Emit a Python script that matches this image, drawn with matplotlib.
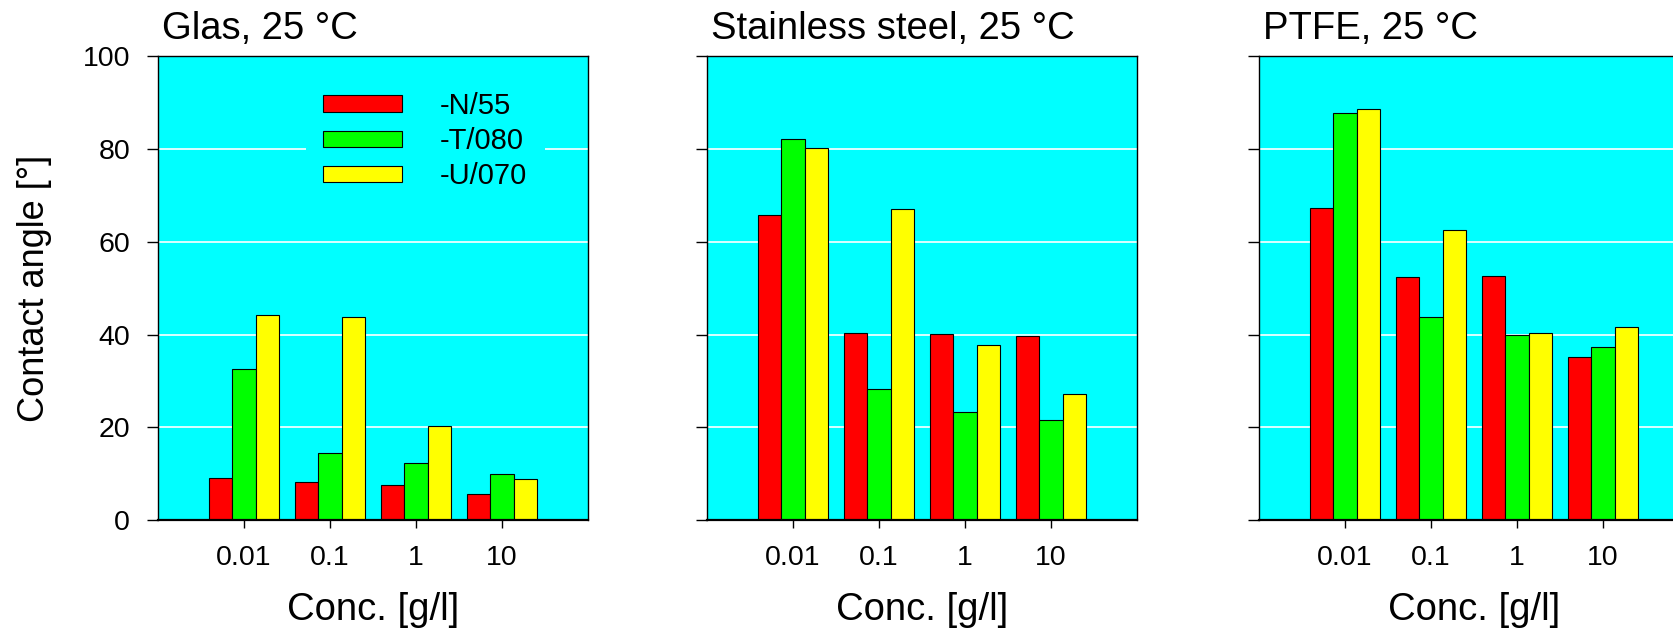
import numpy as np
import matplotlib
matplotlib.use('Agg')
import matplotlib.pyplot as plt

plt.rcParams['font.family'] = ['Liberation Sans', 'DejaVu Sans']

conc_labels = ['0.01', '0.1', '1', '10']
series_names = ['-N/55', '-T/080', '-U/070']
bar_colors = ['#ff0000', '#00ff00', '#ffff00']

# contact angles [deg]
glas_n55 = [9.1, 8.2, 7.5, 5.6]
glas_t080 = [32.5, 14.5, 12.3, 10.0]
glas_u070 = [44.3, 43.9, 20.2, 8.9]

steel_n55 = [65.9, 40.3, 40.1, 39.8]
steel_t080 = [82.1, 28.2, 23.3, 21.6]
steel_u070 = [80.3, 67.0, 37.7, 27.2]

ptfe_n55 = [67.4, 52.4, 52.6, 35.2]
ptfe_t080 = [87.9, 43.8, 40.0, 37.4]
ptfe_u070 = [88.6, 62.6, 40.3, 41.6]

panels = [
    ('Glas, 25 °C', [glas_n55, glas_t080, glas_u070]),
    ('Stainless steel, 25 °C', [steel_n55, steel_t080, steel_u070]),
    ('PTFE, 25 °C', [ptfe_n55, ptfe_t080, ptfe_u070]),
]

W, H = 1673, 630
fig = plt.figure(figsize=(W / 100, H / 100), dpi=100)

ax_left = [158, 707, 1259]
ax_w = 430
ax_top, ax_bot = 56.5, 520

x = np.arange(1, len(conc_labels) + 1)
bw = 0.27

for i, (title, data) in enumerate(panels):
    ax = fig.add_axes([ax_left[i] / W, 1 - ax_bot / H, ax_w / W, (ax_bot - ax_top) / H])
    ax.set_facecolor('#00ffff')
    ax.set_axisbelow(True)
    for j, vals in enumerate(data):
        ax.bar(x + (j - 1) * bw, vals, bw, color=bar_colors[j], edgecolor='black',
               linewidth=0.8, label=series_names[j])
    ax.set_xlim(0, 5)
    ax.set_ylim(0, 100)
    ax.set_yticks([0, 20, 40, 60, 80, 100])
    ax.set_xticks(x)
    ax.set_xticklabels(conc_labels)
    ax.yaxis.grid(True, color='white', linewidth=1.2)
    ax.tick_params(axis='x', length=6, width=1, pad=12, labelsize=20.5)
    ax.tick_params(axis='y', length=8, width=1, pad=12, labelsize=20.5)
    for s in ax.spines.values():
        s.set_linewidth(1.0)
    ax.spines['bottom'].set_linewidth(1.6)
    if i > 0:
        ax.set_yticklabels([])
    else:
        ax.set_ylabel('Contact angle [°]', fontsize=26)
        ax.yaxis.label.set_va('baseline')
        ax.yaxis.set_label_coords(-0.265, 0.5)
    ax.set_xlabel('Conc. [g/l]', fontsize=27.5)
    ax.xaxis.label.set_va('baseline')
    ax.xaxis.set_label_coords(0.5, -0.215)
    ax.text(0.01, 1.038, title, transform=ax.transAxes, fontsize=27.5,
            ha='left', va='baseline')

    if i == 0:
        leg = ax.legend(loc='upper left', bbox_to_anchor=(0.31, 0.993), fontsize=21,
                        handlelength=2.7, handleheight=0.48, handletextpad=1.3,
                        labelspacing=0.25, borderpad=0.6, frameon=True,
                        facecolor='#00ffff', edgecolor='none', framealpha=1,
                        fancybox=False)

fig.savefig('out.png', dpi=100)
